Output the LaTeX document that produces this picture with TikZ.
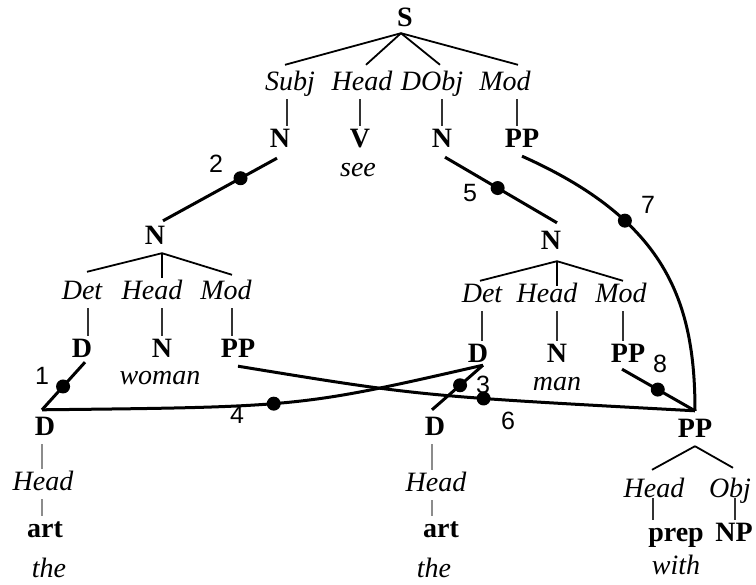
\documentclass[tikz,border=0pt]{standalone}
\usepackage{fontspec}
\setmainfont{Liberation Serif}
\newfontfamily\numfont{Liberation Sans}
\tikzset{
  tx/.style={anchor=base, text height=19pt, text depth=5pt, inner xsep=2pt, inner ysep=3pt},
  cat/.style={tx, font=\fontsize{28}{30}\selectfont\bfseries},
  lab/.style={tx, font=\fontsize{28}{30}\selectfont\itshape},
  num/.style={font=\fontsize{25}{27}\selectfont\numfont, inner sep=0pt},
  link/.style={line width=3pt},
  branch/.style={line width=1.8pt},
  vline/.style={line width=1.3pt, black!80},
  gline/.style={line width=2pt, black!45},
  dotn/.style={circle, fill, minimum size=14pt, inner sep=0pt},
}
\begin{document}
\begin{tikzpicture}[x=1pt,y=-1pt]
\useasboundingbox (0,0) rectangle (756,585);
% top level
\node[cat] (S) at (405,27) {S};
\node[lab] (subj) at (290,91) {Subj};
\node[lab] (headS) at (362,91) {Head};
\node[lab] (dobj) at (432,91) {DObj};
\node[lab] (modS) at (505,91) {Mod};
\node[cat] (nSubj) at (280,148) {N};
\node[cat] (vHead) at (360,148) {V};
\node[cat] (nObj) at (442,148) {N};
\node[cat] (ppMod) at (522,148) {PP};
\node[lab] (see) at (358,177) {see};
% left NP
\node[cat] (nL) at (155,245) {N};
\node[lab] (detL) at (82,300) {Det};
\node[lab] (headL) at (152,300) {Head};
\node[lab] (modL) at (226,300) {Mod};
\node[cat] (dL) at (82,358) {D};
\node[cat] (nL2) at (162,358) {N};
\node[cat] (ppL) at (238,358) {PP};
\node[lab] (woman) at (160,385) {woman};
% right NP
\node[cat] (nR) at (551,250) {N};
\node[lab] (detR) at (482,303) {Det};
\node[lab] (headR) at (547,303) {Head};
\node[lab] (modR) at (621,303) {Mod};
\node[cat] (dR) at (478,363) {D};
\node[cat] (nR2) at (557,363) {N};
\node[cat] (ppR) at (628,363) {PP};
\node[lab] (man) at (557,391) {man};
% bottom
\node[cat] (dA) at (45,436) {D};
\node[lab] (headA) at (43,491) {Head};
\node[cat] (artA) at (45,538) {art};
\node[lab] (theA) at (49,577) {the};
\node[cat] (dB) at (435,436) {D};
\node[lab] (headB) at (436,492) {Head};
\node[cat] (artB) at (441,538) {art};
\node[lab] (theB) at (434,577) {the};
\node[cat] (ppB) at (695,438) {PP};
\node[lab] (headC) at (654,498) {Head};
\node[lab] (objC) at (730,498) {Obj};
\node[cat] (prep) at (676,542) {prep};
\node[cat] (np) at (734,542) {NP};
\node[lab] (with) at (676,575) {with};

% branches
\draw[branch] ([xshift=-4pt,yshift=2pt]S.south) -- ([xshift=-5pt,yshift=4pt]subj.north);
\draw[branch] ([xshift=-4pt,yshift=2pt]S.south) -- ([xshift=4pt,yshift=4pt]headS.north);
\draw[branch] ([xshift=-4pt,yshift=2pt]S.south) -- ([xshift=8pt,yshift=4pt]dobj.north);
\draw[branch] ([xshift=-4pt,yshift=2pt]S.south) -- ([xshift=13pt,yshift=4pt]modS.north);
\draw[branch] ([xshift=7pt]nL.south) -- ([xshift=5pt,yshift=6pt]detL.north);
\draw[branch] ([xshift=7pt]nL.south) -- ([xshift=10pt]headL.north);
\draw[branch] ([xshift=7pt]nL.south) -- ([xshift=6pt,yshift=3pt]modL.north);
\draw[branch] ([xshift=6pt,yshift=-3pt]nR.south) -- ([xshift=-2pt]detR.north);
\draw[branch] ([xshift=6pt,yshift=-3pt]nR.south) -- ([xshift=10pt,yshift=-5pt]headR.north);
\draw[branch] ([xshift=6pt,yshift=-3pt]nR.south) -- ([xshift=2pt]modR.north);
\draw[branch] (ppB.south) -- ([xshift=-2pt,yshift=6pt]headC.north);
\draw[branch] (ppB.south) -- ([xshift=3pt,yshift=8pt]objC.north);

% verticals
\draw[vline] ([xshift=-3pt]subj.south) -- ([xshift=-3pt]subj.south |- nSubj.north);
\draw[vline] ([xshift=-2pt]headS.south) -- ([xshift=-2pt]headS.south |- vHead.north);
\draw[vline] ([xshift=10pt]dobj.south) -- ([xshift=10pt]dobj.south |- nObj.north);
\draw[vline] ([xshift=12pt]modS.south) -- ([xshift=12pt]modS.south |- ppMod.north);
\draw[vline] ([xshift=6pt]detL.south) -- ([xshift=6pt]detL.south |- dL.north);
\draw[vline] ([xshift=10pt]headL.south) -- ([xshift=10pt]headL.south |- nL2.north);
\draw[vline] ([xshift=6pt]modL.south) -- ([xshift=6pt]modL.south |- ppL.north);
\draw[vline] (detR.south) -- (detR.south |- dR.north);
\draw[vline] ([xshift=10pt]headR.south) -- ([xshift=10pt]headR.south |- nR2.north);
\draw[vline] ([xshift=2pt]modR.south) -- ([xshift=2pt]modR.south |- ppR.north);
\draw[vline] ([xshift=-1pt]headC.base) -- ([xshift=-1pt]headC.base |- prep.north);
\draw[vline] ([xshift=5pt]objC.base) -- ([xshift=5pt]objC.base |- np.north);
\draw[gline] ([xshift=-3pt]dA.south) -- ([xshift=-3pt]dA.south |- headA.north);
\draw[gline] ([xshift=-1pt]headA.south) -- ([xshift=-1pt]headA.south |- artA.north);
\draw[gline] ([xshift=-3pt]dB.south) -- ([xshift=-3pt]dB.south |- headB.north);
\draw[gline] ([xshift=-4pt]headB.south) -- ([xshift=-4pt]headB.south |- artB.north);

% numbered links
\draw[link] ([xshift=3pt,yshift=4pt]dL.south) -- node[dotn,pos=0.51] (d1) {} ([xshift=-3pt,yshift=4pt]dA.north);
\draw[link] ([xshift=-3pt,yshift=-2pt]nSubj.south) -- node[dotn,pos=0.32] (d2) {} ([xshift=8pt,yshift=2pt]nL.north);
\draw[link] ([xshift=5pt,yshift=6pt]dR.south) -- node[dotn,pos=0.45] (d3) {} ([xshift=-3pt,yshift=4pt]dB.north);
\draw[link] ([xshift=5pt,yshift=6pt]dR.south) .. controls (300,407) .. node[dotn,pos=0.55] (d4) {} ([xshift=-3pt,yshift=4pt]dA.north);
\draw[link] ([xshift=3pt,yshift=-1pt]nObj.south) -- node[dotn,pos=0.47] (d5) {} ([xshift=6pt,yshift=5pt]nR.north);
\draw[link] (ppL.south) .. controls (420,396) .. node[dotn,pos=0.64] (d6) {} ([yshift=5pt]ppB.north);
\draw[link] (ppMod.south) .. controls (665,220) and (695,300) .. node[dotn,pos=0.31] (d7) {} ([yshift=5pt]ppB.north);
\draw[link] ([xshift=-6pt,yshift=2pt]ppR.south) -- node[dotn,pos=0.49] (d8) {} ([yshift=5pt]ppB.north);

% numbers
\node[num] (n1) at (42,376) {1};
\node[num] (n2) at (216,164) {2};
\node[num] (n3) at (483,385) {3};
\node[num] (n4) at (237,415) {4};
\node[num] (n5) at (470,193) {5};
\node[num] (n6) at (508,421) {6};
\node[num] (n7) at (648,205) {7};
\node[num] (n8) at (660,364) {8};
\end{tikzpicture}
\end{document}
